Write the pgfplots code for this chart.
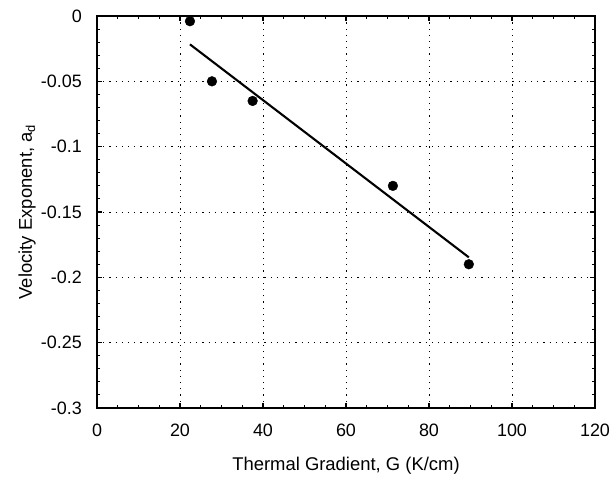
\documentclass[border=0pt]{standalone}
\usepackage{fontspec}
\setmainfont{Liberation Sans}
\usepackage{pgfplots}
\pgfplotsset{compat=1.18}
\begin{document}
\begin{tikzpicture}
\begin{axis}[
    name=ax, at={(0,0)}, anchor=south west,
    scale only axis,
    width=498bp, height=392bp,
    xmin=0, xmax=120, ymin=-0.3, ymax=0,
    xtick={0,20,40,60,80,100,120},
    ytick={-0.3,-0.25,-0.2,-0.15,-0.1,-0.05,0},
    yticklabels={-0.3,-0.25,-0.2\hspace{-8bp},-0.15,-0.1\hspace{-8bp},-0.05,0},
    minor x tick num=3, minor y tick num=4,
    tick align=inside,
    xtick pos=both, ytick pos=both,
    major tick length=5bp, minor tick length=3bp,
    tick style={black, line width=1.1pt},
    axis line style={line width=1.8pt},
    grid=major,
    major grid style={black, line width=0.9pt, dash pattern=on 1.2bp off 5bp},
    /pgf/number format/assume math mode=true,
    ticklabel style={font=\fontsize{18}{21}\selectfont},
    xticklabel style={anchor=north, inner sep=0pt, yshift=-16bp},
    yticklabel style={anchor=east, inner sep=0pt, xshift=-15bp},
    label style={font=\fontsize{18.5}{22}\selectfont},
    xlabel={Thermal Gradient, G (K/cm)},
    ylabel={Velocity Exponent, a\textsubscript{d}},
    xlabel style={at={(axis description cs:0.5,0)}, anchor=center, yshift=-58bp},
    ylabel style={at={(axis description cs:0,0.5)}, anchor=center, yshift=70bp},
    clip=false,
]
\addplot[only marks, mark=*, mark size=4.9pt, black] coordinates {
    (22.4,-0.004) (27.7,-0.050) (37.5,-0.065) (71.3,-0.130) (89.6,-0.190)
};
\addplot[black, line width=2.1pt] coordinates {
    (22.4,-0.0217) (89.6,-0.1847)
};
\end{axis}
\pgfresetboundingbox
\useasboundingbox (-97bp,-70bp) rectangle (514bp,408bp);
\end{tikzpicture}
\end{document}
